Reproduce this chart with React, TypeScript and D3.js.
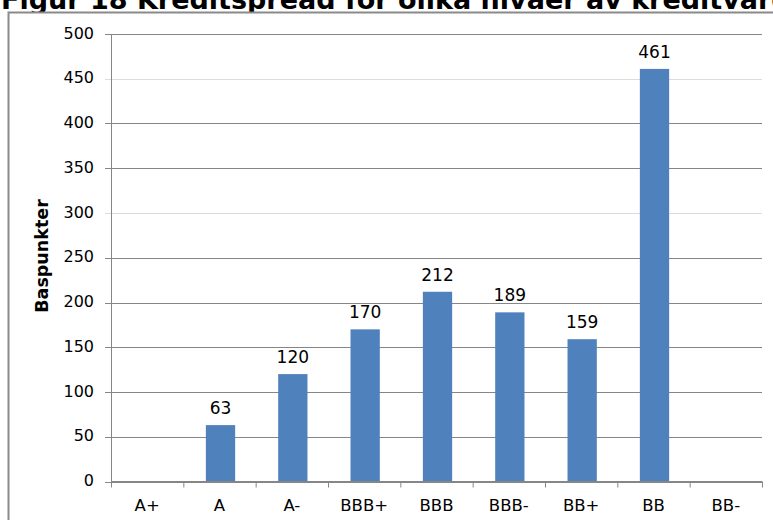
import React from "react";
import * as d3 from "d3";

const categories: string[] = ["A+", "A", "A-", "BBB+", "BBB", "BBB-", "BB+", "BB", "BB-"];
const spreads: (number | null)[] = [null, 63, 120, 170, 212, 189, 159, 461, null];
const yTicks: number[] = [0, 50, 100, 150, 200, 250, 300, 350, 400, 450, 500];
const titleText = "Figur 18 Kreditspread för olika nivåer av kreditvärdighet";
const yAxisTitle = "Baspunkter";

const W = 773;
const H = 520;
const plot = { left: 111, right: 762, top: 34, bottom: 481.5 };
const FONT = "'DejaVu Sans', Verdana, sans-serif";
const AXIS_GREY = "#868686";
const BAR_BLUE = "#4F81BD";

export default function App() {
  const x = d3.scaleBand<string>().domain(categories).range([plot.left, plot.right]).padding(0);
  const y = d3.scaleLinear().domain([0, 500]).range([plot.bottom, plot.top]);
  const bw = x.bandwidth();
  const barW = bw * 0.405;
  const boundaries = d3.range(categories.length + 1).map((i) => plot.left + i * bw);

  return (
    <svg
      width={W}
      height={H}
      style={{ position: "absolute", left: 0, top: 0, background: "#fff" }}
      fontFamily={FONT}
    >
      {/* page title, partially above the top edge */}
      <text x={1} y={8.5} fontSize={27} fontWeight="bold" fill="#000">
        {titleText}
      </text>

      {/* chart frame */}
      <rect x={8.5} y={12.5} width={W + 20} height={H + 20} fill="#fff" stroke="#8a8a8a" strokeWidth={2} />

      {/* horizontal gridlines */}
      {yTicks.map((t) => (
        <line
          key={`g${t}`}
          x1={plot.left}
          x2={plot.right}
          y1={Math.round(y(t)) + 0.5}
          y2={Math.round(y(t)) + 0.5}
          stroke={t === 450 || t === 300 ? "#dcdcdc" : AXIS_GREY}
          strokeWidth={1}
        />
      ))}

      {/* y axis */}
      <line x1={plot.left + 0.5} x2={plot.left + 0.5} y1={plot.top} y2={plot.bottom} stroke={AXIS_GREY} />
      {yTicks.map((t) => (
        <g key={`yt${t}`}>
          <line
            x1={plot.left - 6}
            x2={plot.left}
            y1={Math.round(y(t)) + 0.5}
            y2={Math.round(y(t)) + 0.5}
            stroke={t === 450 || t === 300 ? "#dcdcdc" : AXIS_GREY}
          />
          <text x={94} y={y(t) + 4.5} fontSize={16} textAnchor="end" fill="#000">
            {t}
          </text>
        </g>
      ))}

      {/* y axis title */}
      <text
        transform={`translate(48,256) rotate(-90)`}
        fontSize={17.5}
        fontWeight="bold"
        textAnchor="middle"
        fill="#000"
      >
        {yAxisTitle}
      </text>

      {/* bars */}
      {categories.map((c, i) => {
        const v = spreads[i];
        if (v == null) return null;
        const cx = (x(c) as number) + bw / 2 + 1;
        return (
          <g key={`b${c}`}>
            <rect x={cx - barW / 2} y={y(v)} width={barW} height={y(0) - y(v)} fill={BAR_BLUE} />
            <text x={cx} y={y(v) - 11} fontSize={17} textAnchor="middle" fill="#000">
              {v}
            </text>
          </g>
        );
      })}

      {/* x axis */}
      <line x1={plot.left} x2={plot.right} y1={plot.bottom} y2={plot.bottom} stroke={AXIS_GREY} />
      {boundaries.map((bx, i) => (
        <line key={`xt${i}`} x1={bx + 0.5} x2={bx + 0.5} y1={plot.bottom} y2={plot.bottom + 6} stroke={AXIS_GREY} />
      ))}
      {categories.map((c) => (
        <text key={`xl${c}`} x={(x(c) as number) + bw / 2} y={511} fontSize={16.5} textAnchor="middle" fill="#000">
          {c}
        </text>
      ))}
    </svg>
  );
}
